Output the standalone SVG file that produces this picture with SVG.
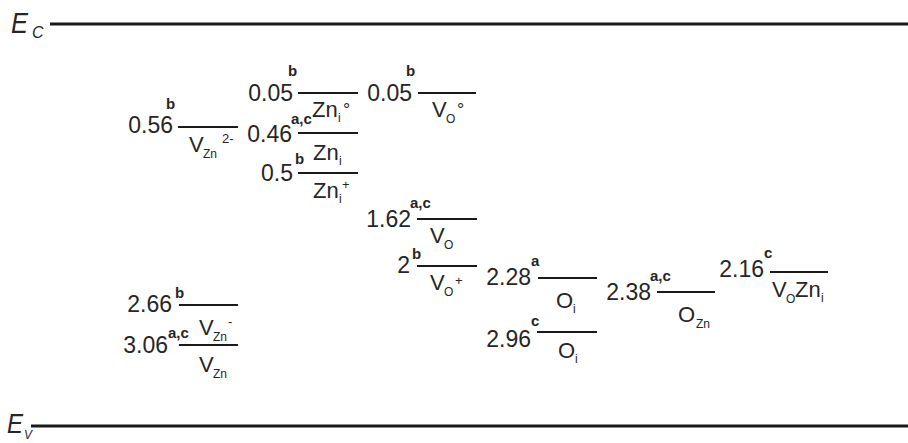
<svg xmlns="http://www.w3.org/2000/svg" width="908" height="443" viewBox="0 0 908 443">
<style>
text{font-family:"Liberation Sans",Arial,sans-serif;fill:#262626}
.num{font-size:23px}
.sup{font-size:15px;font-weight:bold}
.lab{font-size:22px}
.sub{font-size:12px}
.chg{font-size:13px}
.deg{font-size:18px}
.band{font-style:italic}
.lvl{stroke:#1a1a1a;stroke-width:2}
.bl{stroke:#1a1a1a;stroke-width:3}
</style>
<rect width="908" height="443" fill="#fff"/>
<g id="Ec">
<line class="bl" x1="50" y1="24" x2="908" y2="24"/>
<text class="band" x="11" y="33" font-size="29" textLength="17" lengthAdjust="spacingAndGlyphs">E</text>
<text class="band" x="32" y="38" font-size="16">C</text>
</g>
<g id="Ev">
<line class="bl" x1="31" y1="426" x2="908" y2="426"/>
<text class="band" x="7" y="433" font-size="28" textLength="16" lengthAdjust="spacingAndGlyphs">E</text>
<text class="band" x="24" y="439" font-size="12">V</text>
</g>
<g id="VZn2m">
<text class="num" x="173" y="133" text-anchor="end">0.56</text>
<text class="sup" x="166" y="109">b</text>
<line class="lvl" x1="178" y1="127" x2="238" y2="127"/>
<text class="lab" x="189" y="152">V</text>
<text class="sub" x="203" y="158">Zn</text>
<text class="chg" x="222" y="143">2-</text>
</g>
<g id="ZniO">
<text class="num" x="293" y="101" text-anchor="end">0.05</text>
<text class="sup" x="288" y="76">b</text>
<line class="lvl" x1="298" y1="93" x2="358" y2="93"/>
<text class="lab" x="312" y="117">Zn</text>
<text class="sub" x="338" y="122">i</text>
<text class="deg" x="343" y="116">°</text>
</g>
<g id="Zni">
<text class="num" x="292" y="142" text-anchor="end">0.46</text>
<text class="sup" x="291" y="124">a,c</text>
<line class="lvl" x1="298" y1="133" x2="358" y2="133"/>
<text class="lab" x="313" y="160">Zn</text>
<text class="sub" x="339" y="165">i</text>
</g>
<g id="Znip">
<text class="num" x="293" y="181" text-anchor="end">0.5</text>
<text class="sup" x="295" y="164">b</text>
<line class="lvl" x1="298" y1="173" x2="358" y2="173" stroke-width="2.6"/>
<text class="lab" x="313" y="198">Zn</text>
<text class="sub" x="339" y="203">i</text>
<text class="chg" x="342" y="189">+</text>
</g>
<g id="VOO">
<text class="num" x="412" y="101" text-anchor="end">0.05</text>
<text class="sup" x="406" y="76">b</text>
<line class="lvl" x1="418" y1="93" x2="476" y2="93"/>
<text class="lab" x="432" y="117">V</text>
<text class="sub" x="446" y="123">O</text>
<text class="deg" x="457" y="116">°</text>
</g>
<g id="VO">
<text class="num" x="411" y="227" text-anchor="end">1.62</text>
<text class="sup" x="410" y="208">a,c</text>
<line class="lvl" x1="417" y1="219" x2="477" y2="219"/>
<text class="lab" x="430" y="243">V</text>
<text class="sub" x="444" y="249">O</text>
</g>
<g id="VOp">
<text class="num" x="410" y="273" text-anchor="end">2</text>
<text class="sup" x="412" y="259">b</text>
<line class="lvl" x1="417" y1="266" x2="477" y2="266"/>
<text class="lab" x="430" y="290">V</text>
<text class="sub" x="444" y="296">O</text>
<text class="chg" x="455" y="285">+</text>
</g>
<g id="Oi1">
<text class="num" x="531" y="285" text-anchor="end">2.28</text>
<text class="sup" x="531" y="266">a</text>
<line class="lvl" x1="538" y1="278" x2="597" y2="278"/>
<text class="lab" x="556" y="308">O</text>
<text class="sub" x="573" y="313">i</text>
</g>
<g id="OZn">
<text class="num" x="651" y="300" text-anchor="end">2.38</text>
<text class="sup" x="650" y="281">a,c</text>
<line class="lvl" x1="657" y1="292" x2="715" y2="292"/>
<text class="lab" x="678" y="322">O</text>
<text class="sub" x="696" y="328">Zn</text>
</g>
<g id="VOZni">
<text class="num" x="764" y="277" text-anchor="end">2.16</text>
<text class="sup" x="764" y="258">c</text>
<line class="lvl" x1="770" y1="272" x2="828" y2="272" stroke-width="2.6"/>
<text class="lab" x="772" y="297">V</text>
<text class="sub" x="786" y="303">O</text>
<text class="lab" x="795" y="297">Zn</text>
<text class="sub" x="821" y="302">i</text>
</g>
<g id="VZnm">
<text class="num" x="172" y="312" text-anchor="end">2.66</text>
<text class="sup" x="175" y="298">b</text>
<line class="lvl" x1="179" y1="305" x2="238" y2="305"/>
<text class="lab" x="199" y="335">V</text>
<text class="sub" x="213" y="341">Zn</text>
<text class="chg" x="228" y="326">-</text>
</g>
<g id="VZn">
<text class="num" x="168" y="353" text-anchor="end">3.06</text>
<text class="sup" x="168" y="338">a,c</text>
<line class="lvl" x1="179" y1="345" x2="238" y2="345" stroke-width="2.6"/>
<text class="lab" x="199" y="372">V</text>
<text class="sub" x="213" y="378">Zn</text>
</g>
<g id="Oi2">
<text class="num" x="531" y="347" text-anchor="end">2.96</text>
<text class="sup" x="531" y="326">c</text>
<line class="lvl" x1="537" y1="332" x2="597" y2="332"/>
<text class="lab" x="558" y="358">O</text>
<text class="sub" x="575" y="363">i</text>
</g>
</svg>
